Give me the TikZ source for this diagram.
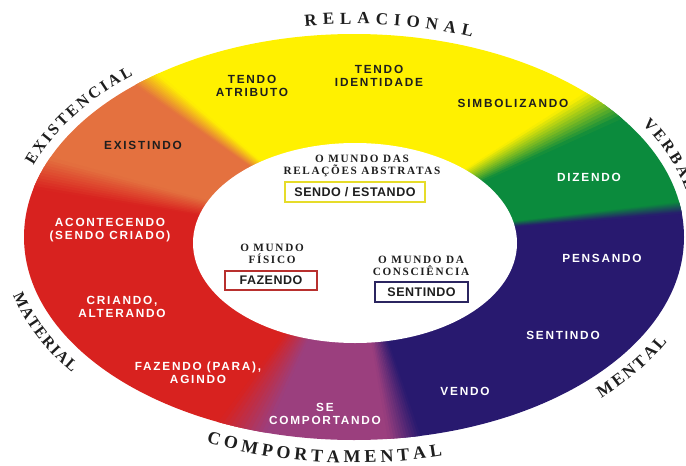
\documentclass[tikz,border=0pt]{standalone}
\usepackage{fontspec}
\setmainfont{Liberation Sans}
\newfontfamily\lab[LetterSpace=15]{Liberation Sans}
\newfontfamily\boxlab[LetterSpace=4]{Liberation Sans}
\newfontfamily\innlab[LetterSpace=15]{Liberation Serif}
\newfontfamily\outlab{Liberation Serif}
\usetikzlibrary{decorations.text}
\definecolor{cyellow}{HTML}{FFF100}
\definecolor{corange}{HTML}{E4713F}
\definecolor{cred}{HTML}{D8221F}
\definecolor{cgreen}{HTML}{0B8B3D}
\definecolor{cnavy}{HTML}{28196F}
\definecolor{cpurple}{HTML}{9B3F7E}
\definecolor{txt}{HTML}{1E1E1E}
\definecolor{yelbox}{HTML}{E6DC2A}
\definecolor{redbox}{HTML}{B8302E}
\definecolor{navybox}{HTML}{2B2560}
\newcommand\ringblend[4]{%
  \foreach \i in {0,...,11}{%
    \pgfmathsetmacro\angA{#1-#2/2+\i*#2/12}%
    \pgfmathsetmacro\angB{#1-#2/2+(\i+1)*#2/12+0.15}%
    \pgfmathsetmacro\pct{100-(\i+0.5)*100/12}%
    \fill[#3!\pct!#4, shift={(C)}] (0,0) -- (\angA:900) -- (\angB:900) -- cycle;
  }}
\begin{document}
\begin{tikzpicture}[x=1pt,y=-1pt,
  ringdark/.style={font=\lab\bfseries\fontsize{11.8}{13}\selectfont, align=center, inner sep=0pt, text=txt},
  ringlight/.style={font=\lab\bfseries\fontsize{11.8}{13}\selectfont, align=center, inner sep=0pt, text=white},
  world/.style={font=\innlab\bfseries\fontsize{11.2}{11.8}\selectfont, align=center, inner sep=0pt, text=txt},
  wbox/.style={font=\boxlab\bfseries\fontsize{12.5}{13}\selectfont, fill=white, line width=1.8pt, inner sep=0pt, text=txt}
]
\useasboundingbox (0,0) rectangle (686,466);
\coordinate (C) at (354,240);
% ring sectors
\begin{scope}
\clip (354,237) ellipse [x radius=330, y radius=203];
\fill[corange] (C) -- (-624,30) -- (-273,-246) -- cycle;
\fill[cyellow] (C) -- (-273,-246) -- (1110,-171) -- cycle;
\fill[cgreen] (C) -- (1110,-171) -- (1341,141) -- cycle;
\fill[cnavy] (C) -- (1341,141) -- (1341,840) -- (507,840) -- cycle;
\fill[cpurple] (C) -- (507,840) -- (12,819) -- cycle;
\fill[cred] (C) -- (12,819) -- (-624,819) -- (-624,30) -- cycle;
% soft transitions between sectors
\ringblend{192.1}{6}{cred}{corange}
\ringblend{217.8}{5}{corange}{cyellow}
\ringblend{331.5}{8}{cyellow}{cgreen}
\ringblend{354.3}{2}{cgreen}{cnavy}
\ringblend{75.7}{9}{cnavy}{cpurple}
\ringblend{120.6}{12}{cpurple}{cred}
\end{scope}
\fill[white] (355,243) ellipse [x radius=162, y radius=100];

% outer labels
\path[decorate, decoration={text along path, text align=fit to path,
  text={|\outlab\bfseries\fontsize{17}{17}\selectfont\color{txt}|RELACIONAL}}]
  (354,237) ++(261.7:340 and 213) arc[start angle=261.7, end angle=290.3, x radius=340, y radius=213];
\path[decorate, decoration={text along path, text align=fit to path,
  text={|\outlab\bfseries\fontsize{16}{16}\selectfont\color{txt}|EXISTENCIAL}}]
  (354,237) ++(199.5:340 and 213) arc[start angle=199.5, end angle=229.5, x radius=340, y radius=213];
\path[decorate, decoration={text along path, text align=fit to path,
  text={|\outlab\bfseries\fontsize{16}{16}\selectfont\color{txt}|VERBAL}}]
  (354,237) ++(328:340 and 213) arc[start angle=328, end angle=347.5, x radius=340, y radius=213];
\path[decorate, decoration={text along path, text align=fit to path,
  text={|\outlab\bfseries\fontsize{16}{16}\selectfont\color{txt}|MATERIAL}}]
  (354,237) ++(165:353 and 226) arc[start angle=165, end angle=143, x radius=353, y radius=226];
\path[decorate, decoration={text along path, text align=fit to path,
  text={|\outlab\bfseries\fontsize{18}{18}\selectfont\color{txt}|COMPORTAMENTAL}}]
  (354,237) ++(114.7:353 and 226) arc[start angle=114.7, end angle=75.5, x radius=353, y radius=226];
\path[decorate, decoration={text along path, text align=fit to path,
  text={|\outlab\bfseries\fontsize{17}{17}\selectfont\color{txt}|MENTAL}}]
  (354,237) ++(45.5:353 and 226) arc[start angle=45.5, end angle=27.5, x radius=353, y radius=226];

% ring labels
\node[ringdark] (tatrib) at (252,86) {TENDO\\ATRIBUTO};
\node[ringdark] (tident) at (379,75.5) {TENDO\\IDENTIDADE};
\node[ringdark] (simb) at (513,103) {SIMBOLIZANDO};
\node[ringdark] (exist) at (143,145) {EXISTINDO};
\node[ringlight] (diz) at (589,177) {DIZENDO};
\node[ringlight] (acont) at (110,230) {ACONTECENDO\\(SENDO CRIADO)};
\node[ringlight] (criando) at (122,306.5) {CRIANDO,\\ALTERANDO};
\node[ringlight] (fazpara) at (198,372.5) {FAZENDO (PARA),\\AGINDO};
\node[ringlight] (secomp) at (325,413.5) {SE\\COMPORTANDO};
\node[ringlight] (pens) at (602,258) {PENSANDO};
\node[ringlight] (sentr) at (563,335) {SENTINDO};
\node[ringlight] (vendo) at (465,391) {VENDO};

% inner worlds
\node[world] (relab) at (362,166) {O MUNDO DAS\\RELAÇÕES ABSTRATAS};
\node[world] (fisico) at (272,254) {O MUNDO\\FÍSICO};
\node[world] (consc) at (421,265.5) {O MUNDO DA\\CONSCIÊNCIA};
\node[wbox, draw=yelbox, minimum width=140pt, minimum height=20pt] (sendo) at (355,192) {SENDO / ESTANDO};
\node[wbox, draw=redbox, minimum width=92pt, minimum height=19pt] (faz) at (271,280.5) {FAZENDO};
\node[wbox, draw=navybox, minimum width=93pt, minimum height=20pt] (sent) at (421.5,292) {SENTINDO};
\end{tikzpicture}
\end{document}
